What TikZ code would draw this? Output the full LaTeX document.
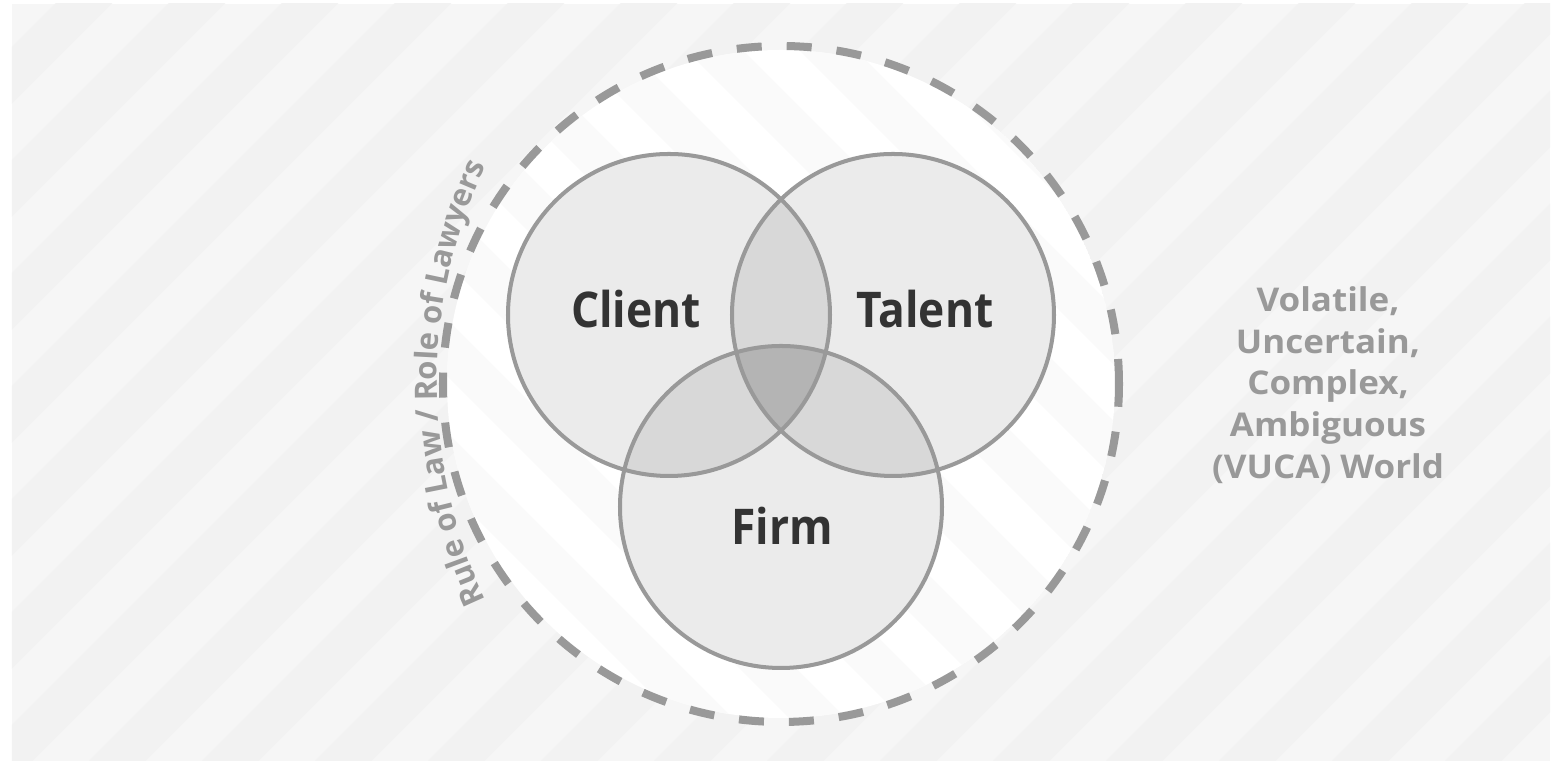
\documentclass[tikz,border=0pt]{standalone}
\usepackage{fontspec}
\setmainfont{Open Sans}
\newfontfamily\namefont{Open Sans}[FakeStretch=0.9]
\newfontfamily\worldfont{Open Sans}[FakeStretch=1.07]
\usetikzlibrary{decorations.text}
\definecolor{bglight}{HTML}{F6F6F6}
\definecolor{bgdark}{HTML}{F2F2F2}
\definecolor{diskstripe}{HTML}{FAFAFA}
\definecolor{ringgray}{HTML}{999999}
\definecolor{onefill}{HTML}{EBEBEB}
\definecolor{twofill}{HTML}{D8D8D8}
\definecolor{threefill}{HTML}{B4B4B4}
\definecolor{labeldark}{HTML}{333333}

\begin{document}
\begin{tikzpicture}[line cap=butt,line join=round,x=0.01cm,y=0.01cm,
  vennline/.style={line width=1.14pt, color=ringgray},
  bigword/.style={inner sep=0, anchor=base, text=labeldark, font=\namefont\fontsize{14}{17}\selectfont\bfseries},
  sideword/.style={inner sep=0, align=center, text=ringgray, font=\worldfont\fontsize{9.3}{11.87}\selectfont\bfseries}]
\useasboundingbox (0,0) rectangle (1562,761);

% Background
\fill [white] (0,0) rectangle (1562,761);
\fill [bglight] (12,0) rectangle (1550,757);
\begin{scope}
\clip (12,0) rectangle (1550,757);
\foreach \k [evaluate=\k as \c using -702+113*\k] in {-1,...,20}
\fill [bgdark] (\c,0) -- ({\c+56.5},0) -- ({\c+56.5+761},761) -- ({\c+761},761) -- cycle;
\end{scope}

% Coordinates of the centres
\coordinate (World) at (781,377);
\coordinate (Client) at (669,446);
\coordinate (Talent) at (893,446);
\coordinate (Firm) at (781,254);

% White disk
\begin{scope}
\clip (World) circle (334);
\fill [white] (World) circle (334);
\foreach \k [evaluate=\k as \c using 380+113*\k] in {0,...,14}
\fill [diskstripe] (\c,0) -- ({\c+56.5},0) -- ({\c+56.5-761},761) -- ({\c-761},761) -- cycle;
\end{scope}

% Dashed ring
\draw [line width=2.28pt, color=ringgray, dash pattern=on 0.25cm off 0.25cm] (World) circle (338);

% Venn circles
\foreach \c in {Client,Talent,Firm}
\fill [onefill] (\c) circle (161);
\begin{scope}
\clip (Client) circle (161);
\fill [twofill] (Talent) circle (161);
\fill [twofill] (Firm) circle (161);
\end{scope}
\begin{scope}
\clip (Talent) circle (161);
\fill [twofill] (Firm) circle (161);
\end{scope}
\begin{scope}
\clip (Client) circle (161);
\clip (Talent) circle (161);
\fill [threefill] (Firm) circle (161);
\end{scope}
\foreach \c in {Client,Talent,Firm}
\draw [vennline] (\c) circle (161);

% Labels
\node [bigword] (clientlabel) at (636,433) {Client};
\node [bigword] (talentlabel) at (925,433) {Talent};
\node [bigword] (firmlabel) at (782,216) {Firm};
\node [sideword] (vucalabel) at (1328,376) {Volatile,\\Uncertain,\\Complex,\\Ambiguous\\(VUCA) World};

% Curved text round the ring
\path [decorate, decoration={text along path, text align=center,
  text={|\fontsize{8.8}{11}\selectfont\bfseries\color{ringgray}|Rule of Law / Role of Lawyers}}]
  (945,378) ++(207:508) arc [start angle=207, end angle=153, radius=508];
\end{tikzpicture}
\end{document}
